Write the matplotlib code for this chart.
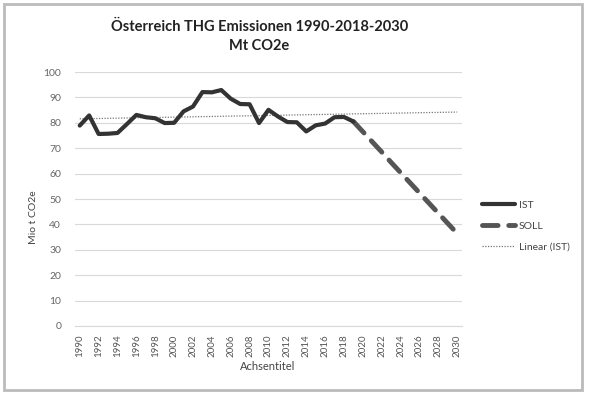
import numpy as np
import matplotlib
matplotlib.use("Agg")
import matplotlib.pyplot as plt
from matplotlib.patches import Rectangle

# Jahre 1990-2030 (Kategorienachse)
years = list(range(1990, 2031))

# IST-Werte 1990-2019 (Mio t CO2e)
ist_years = list(range(1990, 2020))
ist_values = [78.9, 82.9, 75.6, 75.7, 76.0, 79.5, 83.1, 82.2, 81.8, 79.9,
              80.0, 84.5, 86.4, 92.1, 92.0, 92.9, 89.5, 87.4, 87.3, 79.9,
              85.1, 82.5, 80.3, 80.2, 76.6, 79.0, 79.7, 82.2, 82.3, 80.5]

# SOLL-Pfad 2019-2030
soll_years = list(range(2019, 2031))
soll_values = [80.5, 76.5, 72.5, 68.5, 64.4, 60.4, 56.4, 52.4, 48.4, 44.4, 40.4, 36.4]

plt.rcParams['font.family'] = ['Lato', 'DejaVu Sans']

fig = plt.figure(figsize=(5.93, 3.95), dpi=100)
ax = fig.add_axes([0.1265, 0.1747, 0.6525, 0.643])

# Positionen auf der Kategorienachse
idx = {y: i for i, y in enumerate(years)}
ist_x = [idx[y] for y in ist_years]
soll_x = [idx[y] for y in soll_years]

# Linearer Trend aus den IST-Werten (wie Excel-Trendlinie)
coef = np.polyfit(ist_x, ist_values, 1)
trend_x = np.array([0, len(years) - 1])
trend_y = np.polyval(coef, trend_x)

ax.plot(ist_x, ist_values, color='#333333', linewidth=3.0,
        solid_joinstyle='round', solid_capstyle='round', label='IST', zorder=4)
ax.plot(soll_x, soll_values, color='#555555', linewidth=3.5,
        dashes=(3.2, 2.2), dash_capstyle='round', label='SOLL', zorder=3)
ax.plot(trend_x, trend_y, color='#777777', linewidth=0.9,
        linestyle=(0, (1, 1.2)), label='Linear (IST)', zorder=2)

ax.set_xlim(-0.5, len(years) - 0.5)
ax.set_ylim(0, 100)
ax.set_yticks(range(0, 101, 10))
ax.set_xticks(range(0, len(years), 2))
ax.set_xticklabels([str(y) for y in years[::2]], rotation=90)
ax.tick_params(axis='x', labelsize=7, colors='#555555', length=0, pad=6)
ax.tick_params(axis='y', labelsize=7.5, colors='#666666', length=0, pad=10)

ax.grid(axis='y', color='#d9d9d9', linewidth=0.8)
ax.set_axisbelow(True)
for side in ['top', 'right', 'left']:
    ax.spines[side].set_visible(False)
ax.spines['bottom'].set_color('#d9d9d9')

fig.text(0.4375, 0.932, 'Österreich THG Emissionen 1990-2018-2030',
         ha='center', va='center', fontsize=10.5, fontweight='bold', color='#222222')
fig.text(0.4375, 0.884, 'Mt CO2e', ha='center', va='center',
         fontsize=10.5, fontweight='bold', color='#222222')
fig.text(0.056, 0.451, 'Mio t CO2e', rotation=90, ha='center', va='center',
         fontsize=7.5, color='#444444')
fig.text(0.452, 0.071, 'Achsentitel', ha='center', va='center',
         fontsize=8, color='#444444')

ax.legend(loc='center left', bbox_to_anchor=(0.806, 0.428),
          bbox_transform=fig.transFigure, frameon=False, borderaxespad=0,
          fontsize=7.5, handlelength=3.2, labelspacing=1.1, handletextpad=0.3,
          labelcolor='#444444')

# Rahmen um das Diagramm
fig.patches.append(Rectangle((0.006, 0.013), 0.976, 0.978, transform=fig.transFigure,
                             fill=False, edgecolor='#bbbbbb', linewidth=2.0))

fig.savefig('out.png', dpi=100)
